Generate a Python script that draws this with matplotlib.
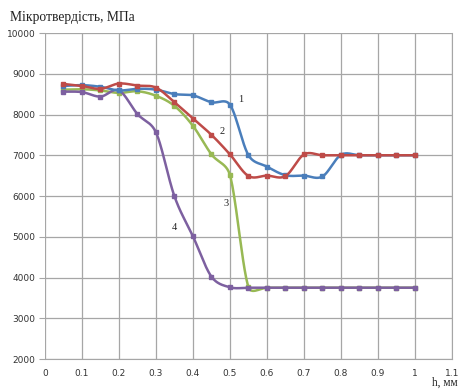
import numpy as np
import matplotlib.pyplot as plt

h = [0.05, 0.1, 0.15, 0.2, 0.25, 0.3, 0.35, 0.4, 0.45, 0.5,
     0.55, 0.6, 0.65, 0.7, 0.75, 0.8, 0.85, 0.9, 0.95, 1.0]

curve1 = [8700, 8720, 8680, 8590, 8630, 8610, 8500, 8470, 8300, 8240,
          7000, 6720, 6510, 6500, 6480, 7010, 7000, 7000, 7000, 7000]
curve2 = [8750, 8700, 8630, 8760, 8710, 8660, 8300, 7900, 7500, 7020,
          6490, 6500, 6490, 7020, 7000, 7000, 7000, 7000, 7000, 7000]
curve3 = [8610, 8620, 8590, 8530, 8570, 8460, 8210, 7720, 7020, 6510,
          3760, 3750, 3750, 3750, 3750, 3750, 3750, 3750, 3750, 3750]
curve4 = [8560, 8550, 8440, 8590, 8010, 7560, 5990, 5010, 4020, 3760,
          3750, 3750, 3750, 3750, 3750, 3750, 3750, 3750, 3750, 3750]

labels = ['1', '2', '3', '4']
label_pos = [(0.53, 8356), (0.478, 7595), (0.489, 5828), (0.351, 5215)]
colors = ['#4A7EBB', '#BE4B48', '#98B954', '#7D60A0']

xticks = [0, 0.1, 0.2, 0.3, 0.4, 0.5, 0.6, 0.7, 0.8, 0.9, 1, 1.1]
yticks = [2000, 3000, 4000, 5000, 6000, 7000, 8000, 9000, 10000]

# rough screen scale (px per unit) so smoothing behaves like excel
SX, SY = 370.0, 0.04075


def smooth(x, y, n=24):
    # cubic bezier through the points, tangents limited by segment length
    p = np.column_stack([np.asarray(x, float) * SX, np.asarray(y, float) * SY])
    ext = np.vstack([p[0], p, p[-1]])
    out = []
    t = np.linspace(0, 1, n, endpoint=False)[:, None]
    for i in range(1, len(ext) - 2):
        p0, p3 = ext[i], ext[i + 1]
        seg = np.linalg.norm(p3 - p0)
        tan1 = (ext[i + 1] - ext[i - 1]) / 6
        tan2 = (ext[i + 2] - ext[i]) / 6
        lim = 0.45 * seg
        if np.linalg.norm(tan1) > lim:
            tan1 = tan1 * lim / np.linalg.norm(tan1)
        if np.linalg.norm(tan2) > lim:
            tan2 = tan2 * lim / np.linalg.norm(tan2)
        c1 = p0 + tan1
        c2 = p3 - tan2
        b = (1 - t) ** 3 * p0 + 3 * (1 - t) ** 2 * t * c1 + 3 * (1 - t) * t ** 2 * c2 + t ** 3 * p3
        out.append(b)
    out.append(p[-1:])
    out = np.vstack(out)
    return out[:, 0] / SX, out[:, 1] / SY


fig = plt.figure(figsize=(4.6, 3.91), dpi=100)
ax = fig.add_axes([0.0978, 0.0818, 0.8848, 0.8338])

ax.set_xlim(0, 1.1)
ax.set_ylim(2000, 10000)
ax.set_xticks(xticks)
ax.set_xticklabels([('%g' % v) for v in xticks])
ax.set_yticks(yticks)
ax.grid(True, color='#A6A6A6', linewidth=0.9)
ax.set_axisbelow(True)
for s in ['top', 'left']:
    ax.spines[s].set_visible(False)
ax.spines['right'].set_color('#A6A6A6')
ax.spines['bottom'].set_color('#A6A6A6')
ax.tick_params(axis='x', length=0, pad=7, labelsize=6.5, colors='#333333')
ax.tick_params(axis='y', length=4, color='#A6A6A6', pad=3, labelsize=6.5, labelcolor='#333333')

for ys, c in zip([curve3, curve4, curve1, curve2], [colors[2], colors[3], colors[0], colors[1]]):
    sx, sy = smooth(h, ys)
    ax.plot(sx, sy, color=c, linewidth=1.8, solid_capstyle='round')
    ax.plot(h, ys, linestyle='none', marker='s', markersize=2.3, color=c)

for lab, (lx, ly) in zip(labels, label_pos):
    ax.text(lx, ly, lab, fontsize=7.5, family='Liberation Serif', color='#222222',
            ha='center', va='center')

fig.text(0.022, 0.955, 'Мікротвердість, МПа', fontsize=9.8, family='Liberation Serif',
         color='#222222', va='center')
fig.text(0.94, 0.02, 'h, мм', fontsize=8.3, family='Liberation Serif',
         color='#222222', va='center')

fig.savefig('out.png', dpi=100)
